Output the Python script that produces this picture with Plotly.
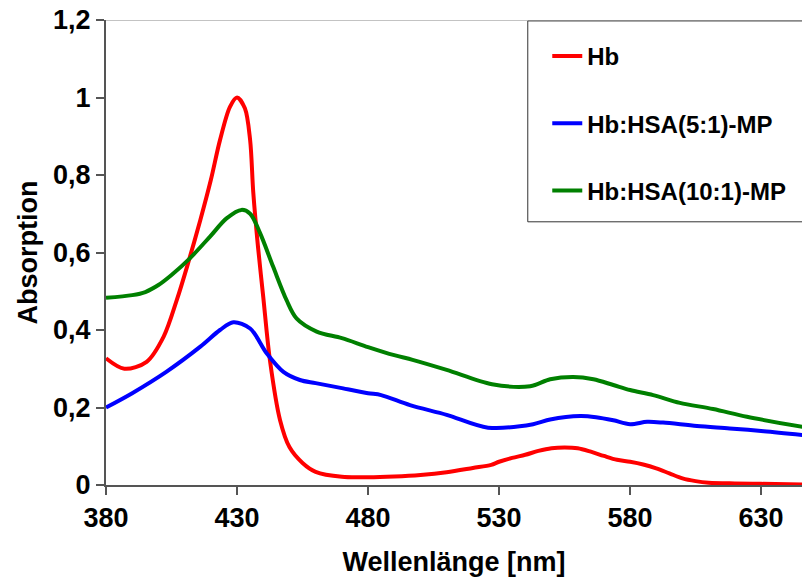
import plotly.graph_objects as go

# Wellenlänge (nm) / Absorption
wl_hb = [380, 387, 395.5, 402, 407, 411, 416, 420, 423.5, 427.3, 430, 433, 435, 436.2, 438,
         440, 442.6, 446.4, 450, 455, 460, 470, 480, 490, 500, 510, 520, 527, 530, 535, 540,
         545, 550, 555, 560, 565, 570, 575, 580, 585, 590, 595, 600, 605, 610, 620, 630, 646]
abs_hb = [0.327, 0.30, 0.318, 0.383, 0.477, 0.565, 0.684, 0.787, 0.89, 0.976, 1.0, 0.972,
          0.89, 0.755, 0.615, 0.486, 0.32, 0.168, 0.098, 0.057, 0.034, 0.021, 0.02, 0.022,
          0.026, 0.033, 0.044, 0.052, 0.06, 0.07, 0.078, 0.088, 0.095, 0.097, 0.095, 0.086,
          0.075, 0.065, 0.06, 0.053, 0.043, 0.03, 0.017, 0.01, 0.006, 0.004, 0.003, 0.001]

wl_5 = [380, 390, 403, 416, 423.5, 428.6, 435, 441.3, 447.7, 454, 460, 470, 480, 485, 496,
        510, 525.8, 543, 549.5, 561, 567, 573.6, 580, 586.5, 592.6, 605.5, 618, 631, 646]
abs_5 = [0.20, 0.237, 0.292, 0.357, 0.40, 0.42, 0.404, 0.34, 0.292, 0.271, 0.263, 0.25,
         0.237, 0.232, 0.206, 0.181, 0.148, 0.157, 0.169, 0.178, 0.175, 0.167, 0.157, 0.163,
         0.161, 0.152, 0.146, 0.139, 0.129]

wl_10 = [380, 390, 395, 400, 405, 412, 419.7, 426, 431.7, 435, 438.8, 443.8, 448.9, 452.7,
         460.4, 470, 480, 490, 497, 510, 527.3, 541.9, 549.5, 558.3, 566, 573.6, 580, 588.8,
         599, 611.7, 624.6, 646]
abs_10 = [0.483, 0.49, 0.498, 0.516, 0.542, 0.585, 0.641, 0.688, 0.71, 0.70, 0.65, 0.563,
          0.477, 0.43, 0.396, 0.379, 0.356, 0.335, 0.323, 0.297, 0.26, 0.255, 0.273, 0.279,
          0.273, 0.258, 0.245, 0.232, 0.212, 0.196, 0.176, 0.15]

series = [
    ('Hb', wl_hb, abs_hb, '#FF0000'),
    ('Hb:HSA(5:1)-MP', wl_5, abs_5, '#0000FF'),
    ('Hb:HSA(10:1)-MP', wl_10, abs_10, '#008000'),
]

x_ticks = [380, 430, 480, 530, 580, 630]
y_ticks = [0, 0.2, 0.4, 0.6, 0.8, 1, 1.2]
y_labels = ['0', '0,2', '0,4', '0,6', '0,8', '1', '1,2']

FONT = 'Liberation Sans, Arial, sans-serif'

fig = go.Figure()
for i, (name, x, y, color) in enumerate(series):
    fig.add_trace(go.Scatter(
        x=x, y=y, mode='lines', name=f'<b>{name}</b>',
        legendgroup=str(i),
        line=dict(color=color, width=4, shape='spline', smoothing=0.9),
    ))

_AXIS = dict(
    showgrid=False,
    zeroline=False,
    showline=True,
    linecolor='#555555',
    linewidth=2,
    ticks='outside',
    ticklen=8,
    tickwidth=1.5,
    tickcolor='#555555',
    automargin=False,
    tickfont=dict(family=FONT, size=27, color='black'),
)

fig.update_layout(
    width=802,
    height=578,
    margin=dict(l=106, r=0, t=20, b=93),
    paper_bgcolor='white',
    plot_bgcolor='white',
    xaxis=dict(
        range=[380, 645.6],
        tickvals=x_ticks,
        ticktext=[f'<b>{v}</b>' for v in x_ticks],
        title=dict(text='<b>Wellenlänge [nm]</b>', font=dict(family=FONT, size=27, color='black'),
                   standoff=20),
        **_AXIS,
    ),
    yaxis=dict(
        range=[0, 1.2],
        tickvals=y_ticks,
        ticktext=[f'<b>{t}</b>' for t in y_labels],
        title=dict(text='<b>Absorption</b>', font=dict(family=FONT, size=27, color='black'),
                   standoff=8),
        **_AXIS,
    ),
    legend=dict(
        x=0.634, y=0.97, xanchor='left', yanchor='top',
        borderwidth=0, bgcolor='rgba(0,0,0,0)',
        font=dict(family=FONT, size=24, color='black'),
        tracegroupgap=33,
        itemwidth=30,
    ),
    showlegend=True,
)

# legend frame and thin top frame line at 1,2
fig.add_shape(type='rect', xref='paper', yref='paper', x0=0.606, x1=1.02, y0=0.566, y1=0.998,
              line=dict(color='#333333', width=1), fillcolor='white', layer='below')
fig.add_shape(type='line', xref='paper', yref='y', x0=0, x1=1, y0=1.2, y1=1.2,
              line=dict(color='#888888', width=1))

fig.write_html('out.html', config={'displayModeBar': False},
               post_script="document.body.style.margin='0';")
